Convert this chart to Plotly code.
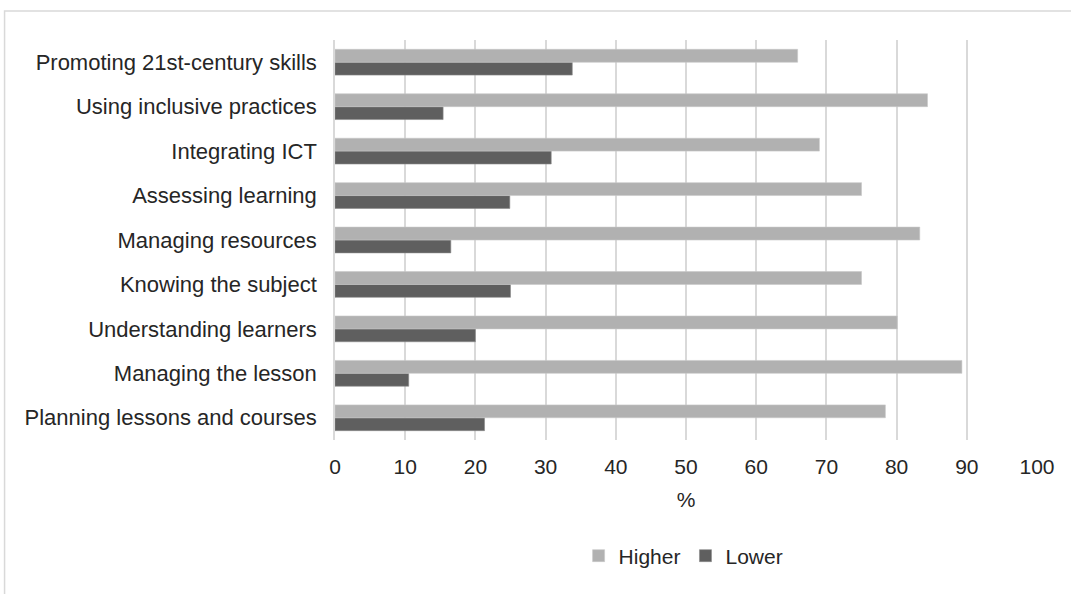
import plotly.graph_objects as go

categories = [
    "Planning lessons and courses",
    "Managing the lesson",
    "Understanding learners",
    "Knowing the subject",
    "Managing resources",
    "Assessing learning",
    "Integrating ICT",
    "Using inclusive practices",
    "Promoting 21st-century skills",
]
higher = [78.4, 89.3, 80.1, 75.0, 83.3, 75.0, 69.0, 84.4, 65.9]
lower = [21.3, 10.5, 20.0, 25.0, 16.5, 24.9, 30.8, 15.4, 33.8]
x_ticks = [0, 10, 20, 30, 40, 50, 60, 70, 80, 90, 100]

FONT = "Liberation Sans, Arial, sans-serif"
TXT = "#262626"

fig = go.Figure()
fig.add_trace(go.Bar(
    y=categories, x=lower, name="Lower", orientation="h",
    marker=dict(color="#5f5f5f", line=dict(color="#8a8a8a", width=0.6)),
))
fig.add_trace(go.Bar(
    y=categories, x=higher, name="Higher", orientation="h",
    marker=dict(color="#b1b1b1", line=dict(color="#c8c8c8", width=0.6)),
))

fig.update_layout(
    width=1071, height=594,
    margin=dict(l=335, r=34, t=40, b=154),
    paper_bgcolor="white", plot_bgcolor="white",
    barmode="group", bargap=0.42, bargroupgap=0.0,
    font=dict(family=FONT, size=21, color=TXT),
    showlegend=True,
    legend=dict(
        orientation="h", traceorder="reversed",
        x=0.347, xanchor="left", y=-0.29, yanchor="middle",
        xref="paper", font=dict(size=21, color=TXT),
        itemwidth=30,
    ),
    shapes=[dict(
        type="rect", xref="paper", yref="paper",
        x0=-0.4707, x1=1.2, y0=-0.5, y1=1.0725,
        line=dict(color="#d9d9d9", width=1.5), fillcolor="rgba(0,0,0,0)",
        layer="below",
    )],
)
fig.update_xaxes(
    range=[0, 100], tickvals=x_ticks, showgrid=True, gridcolor="#d9d9d9",
    gridwidth=1.5, zeroline=False, showline=False,
    ticks="", ticklabelstandoff=12,
    title=dict(text="%", standoff=15, font=dict(size=21, color=TXT)),
    tickfont=dict(size=21, color=TXT),
)
fig.update_yaxes(
    categoryorder="array", categoryarray=categories,
    showgrid=False, zeroline=False, showline=True, linecolor="#d9d9d9", linewidth=1.5,
    ticks="", ticklabelstandoff=12,
    tickfont=dict(size=22, color=TXT),
)

fig.write_html("out.html")
